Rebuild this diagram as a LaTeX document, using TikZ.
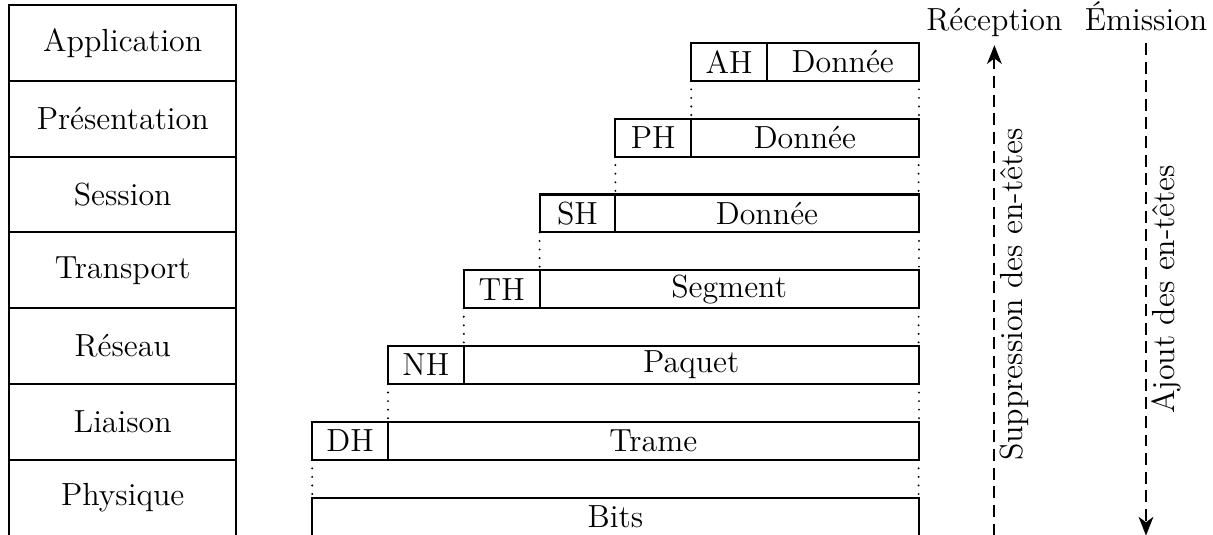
\documentclass[tikz,border=0pt]{standalone}
\usetikzlibrary{arrows.meta}
\begin{document}
\begin{tikzpicture}[
  every node/.style={font=\fontsize{12}{14}\selectfont},
  layer/.style={draw, thick, minimum width=3cm, minimum height=1cm, inner sep=0pt, outer sep=0pt},
  cell/.style={draw, thick, minimum height=0.5cm, inner sep=0pt, outer sep=0pt},
  guide/.style={line width=0.8pt, dash pattern=on 0.01pt off 3.2pt, line cap=round},
  flow/.style={thick, dash pattern=on 4.5pt off 2.5pt, -{Stealth[length=7pt,width=5.5pt,inset=2pt]}},
]
\useasboundingbox (-0.119,0.008) rectangle (15.884,7.066);

% OSI layers
\node[layer] (l7) at (1.5,6.5) {Application};
\node[layer] (l6) at (1.5,5.5) {Présentation};
\node[layer] (l5) at (1.5,4.5) {Session};
\node[layer] (l4) at (1.5,3.5) {Transport};
\node[layer] (l3) at (1.5,2.5) {Réseau};
\node[layer] (l2) at (1.5,1.5) {Liaison};
\node[layer] (l1) at (1.5,0.5) {Physique};

% encapsulation
\node[cell, minimum width=1cm] (ah) at (9.5,6.25) {AH};
\node[cell, minimum width=2cm] (ad) at (11,6.25) {Donnée};
\node[cell, minimum width=1cm] (ph) at (8.5,5.25) {PH};
\node[cell, minimum width=3cm] (pd) at (10.5,5.25) {Donnée};
\node[cell, minimum width=1cm] (sh) at (7.5,4.25) {SH};
\node[cell, minimum width=4cm] (sd) at (10,4.25) {Donnée};
\node[cell, minimum width=1cm] (th) at (6.5,3.25) {TH};
\node[cell, minimum width=5cm] (td) at (9.5,3.25) {Segment};
\node[cell, minimum width=1cm] (nh) at (5.5,2.25) {NH};
\node[cell, minimum width=6cm] (nd) at (9,2.25) {Paquet};
\node[cell, minimum width=1cm] (dh) at (4.5,1.25) {DH};
\node[cell, minimum width=7cm] (dd) at (8.5,1.25) {Trame};
\node[cell, minimum width=8cm] (bits) at (8,0.25) {Bits};

% guides
\draw[guide] (ah.south west) -- (pd.north west);
\draw[guide] (ad.south east) -- (pd.north east);
\draw[guide] (ph.south west) -- (sd.north west);
\draw[guide] (pd.south east) -- (sd.north east);
\draw[guide] (sh.south west) -- (td.north west);
\draw[guide] (sd.south east) -- (td.north east);
\draw[guide] (th.south west) -- (nd.north west);
\draw[guide] (td.south east) -- (nd.north east);
\draw[guide] (nh.south west) -- (dd.north west);
\draw[guide] (nd.south east) -- (dd.north east);
\draw[guide] (dh.south west) -- (bits.north west);
\draw[guide] (dd.south east) -- (bits.north east);

% directions
\node[anchor=base] (rec) at (13,6.67) {Réception};
\node[anchor=base] (emi) at (15,6.67) {Émission};
\coordinate (r0) at (13,0);
\coordinate (r1) at (13,6.47);
\coordinate (e0) at (15,6.5);
\coordinate (e1) at (15,0);
\draw[flow] (r0) -- (r1);
\draw[flow] (e0) -- (e1);
\node[rotate=90, anchor=base] (sup) at (13.37,3.18) {Suppression des en-têtes};
\node[rotate=90, anchor=base] (ajo) at (15.38,3.25) {Ajout des en-têtes};
\end{tikzpicture}
\end{document}
